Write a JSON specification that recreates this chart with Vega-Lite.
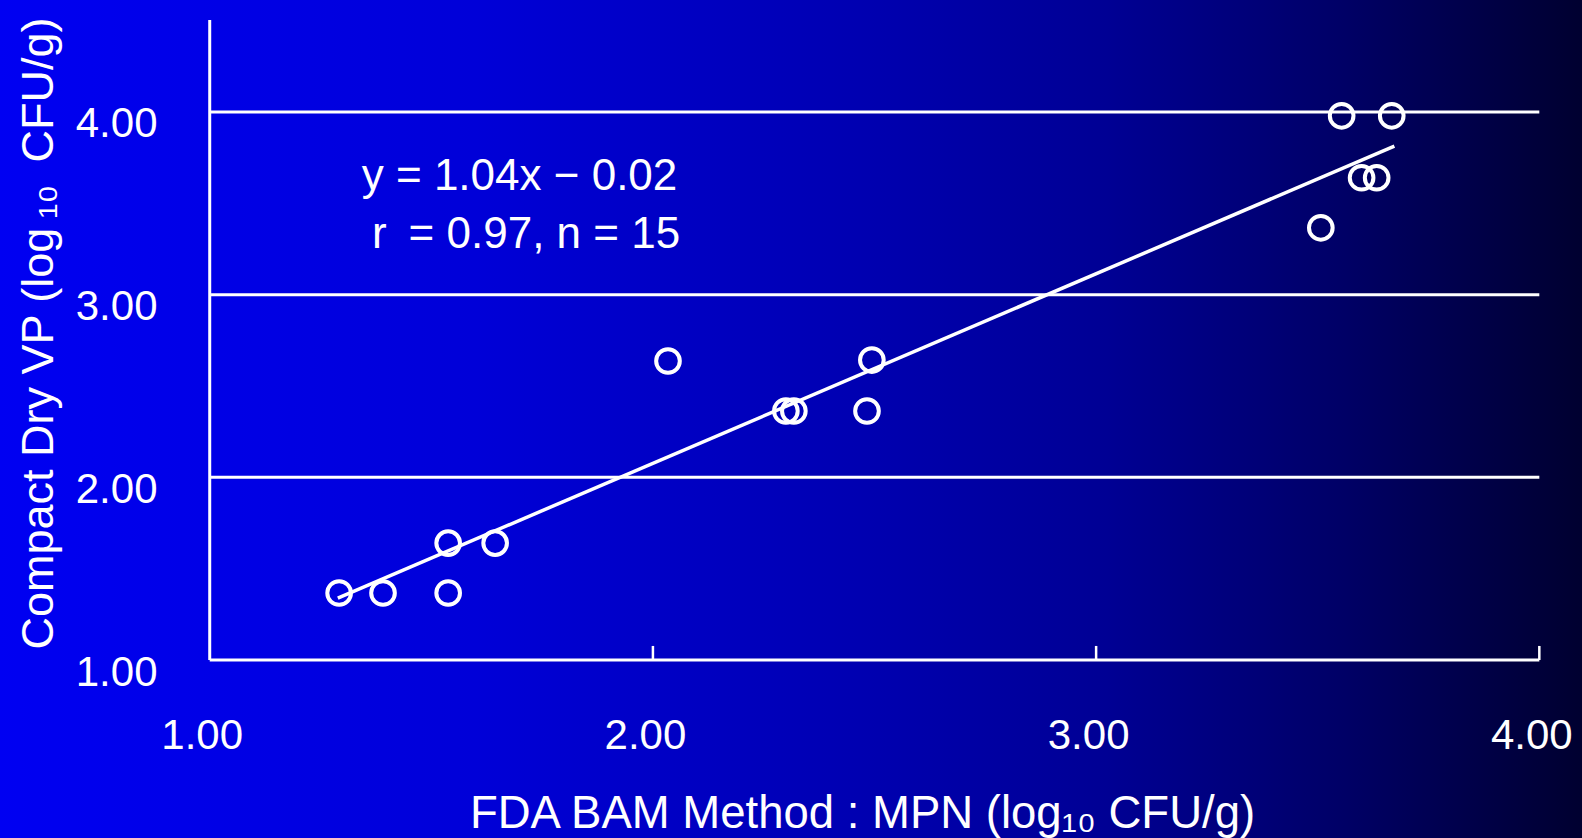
{
  "$schema": "https://vega.github.io/schema/vega-lite/v6.json",
  "width": 1582,
  "height": 838,
  "autosize": {"type": "none"},
  "padding": 0,
  "background": "#000090",
  "view": {
    "stroke": null,
    "fill": {
      "gradient": "linear",
      "x1": 0, "y1": 0, "x2": 1, "y2": 0,
      "stops": [
        {"offset": 0, "color": "#0000F2"},
        {"offset": 0.3, "color": "#0000D8"},
        {"offset": 0.55, "color": "#0000B0"},
        {"offset": 0.7, "color": "#000094"},
        {"offset": 0.85, "color": "#000066"},
        {"offset": 1, "color": "#000030"}
      ]
    }
  },
  "config": {
    "font": "Liberation Sans",
    "axis": {"grid": false, "domain": false, "ticks": false, "tickSize": 0}
  },
  "datasets": {
    "points": [
      {"fda": 1.292, "cd": 1.367},
      {"fda": 1.391, "cd": 1.367},
      {"fda": 1.538, "cd": 1.367},
      {"fda": 1.538, "cd": 1.640},
      {"fda": 1.644, "cd": 1.640},
      {"fda": 2.034, "cd": 2.637},
      {"fda": 2.300, "cd": 2.363},
      {"fda": 2.318, "cd": 2.363},
      {"fda": 2.483, "cd": 2.363},
      {"fda": 2.494, "cd": 2.642},
      {"fda": 3.507, "cd": 3.366},
      {"fda": 3.554, "cd": 3.979},
      {"fda": 3.667, "cd": 3.979},
      {"fda": 3.599, "cd": 3.640},
      {"fda": 3.633, "cd": 3.640}
    ],
    "fit": [
      {"fda": 1.289, "cd": 1.339},
      {"fda": 3.673, "cd": 3.813}
    ],
    "grid": [{"level": 1}, {"level": 2}, {"level": 3}, {"level": 4}],
    "xticks": [{"tick": 2}, {"tick": 3}, {"tick": 4}],
    "notes": [
      {"tx": 1.343, "ty": 3.572, "label": "y = 1.04x − 0.02"},
      {"tx": 1.366, "ty": 3.255, "label": "r\u2002= 0.97, n = 15"}
    ]
  },
  "layer": [
    {
      "data": {"name": "grid"},
      "mark": {"type": "rule", "color": "white", "strokeWidth": 3},
      "encoding": {
        "y": {"field": "level", "type": "quantitative", "scale": {"domain": [0.0257, 4.613], "nice": false, "zero": false}},
        "x": {"datum": 1, "type": "quantitative", "scale": {"domain": [0.5268, 4.0963], "nice": false, "zero": false}},
        "x2": {"datum": 4}
      }
    },
    {
      "data": {"values": [{}]},
      "mark": {"type": "rule", "color": "white", "strokeWidth": 3},
      "encoding": {
        "x": {"datum": 1, "type": "quantitative", "scale": {"domain": [0.5268, 4.0963], "nice": false, "zero": false}},
        "y": {"datum": 1, "type": "quantitative", "scale": {"domain": [0.0257, 4.613], "nice": false, "zero": false}},
        "y2": {"datum": 4.504}
      }
    },
    {
      "data": {"name": "xticks"},
      "mark": {"type": "rule", "color": "white", "strokeWidth": 2.5},
      "encoding": {
        "x": {"field": "tick", "type": "quantitative", "scale": {"domain": [0.5268, 4.0963], "nice": false, "zero": false}},
        "y": {"datum": 1, "type": "quantitative", "scale": {"domain": [0.0257, 4.613], "nice": false, "zero": false}},
        "y2": {"datum": 1.077}
      }
    },
    {
      "data": {"name": "fit"},
      "mark": {"type": "line", "color": "white", "strokeWidth": 3.5},
      "encoding": {
        "x": {"field": "fda", "type": "quantitative", "scale": {"domain": [0.5268, 4.0963], "nice": false, "zero": false}},
        "y": {"field": "cd", "type": "quantitative", "scale": {"domain": [0.0257, 4.613], "nice": false, "zero": false}}
      }
    },
    {
      "data": {"name": "points"},
      "mark": {"type": "point", "shape": "circle", "filled": false, "stroke": "white", "strokeWidth": 4, "size": 560, "opacity": 1},
      "encoding": {
        "x": {
          "field": "fda", "type": "quantitative",
          "scale": {"domain": [0.5268, 4.0963], "nice": false, "zero": false},
          "axis": {
            "orient": "bottom", "offset": -178, "values": [1, 2, 3, 4], "format": ".2f",
            "labelFont": "Liberation Sans", "labelFontSize": 42, "labelColor": "white",
            "labelPadding": 55, "labelOffset": -8, "labelFlush": false, "labelOverlap": false, "labelBaseline": "top",
            "title": "FDA BAM Method : MPN (log₁₀ CFU/g)",
            "titleFont": "Liberation Sans", "titleFontSize": 45.5, "titleFontWeight": "normal", "titleColor": "white",
            "titleX": 862, "titleY": 167, "titleAlign": "center", "titleBaseline": "alphabetic"
          }
        },
        "y": {
          "field": "cd", "type": "quantitative",
          "scale": {"domain": [0.0257, 4.613], "nice": false, "zero": false},
          "axis": {
            "orient": "left", "offset": -207, "values": [1, 2, 3, 4], "format": ".2f",
            "labelFont": "Liberation Sans", "labelFontSize": 42, "labelColor": "white",
            "labelPadding": 50, "labelOffset": 12, "labelFlush": false, "labelOverlap": false,
            "title": "Compact Dry VP (log\u2009₁₀\u2002CFU/g)",
            "titleFont": "Liberation Sans", "titleFontSize": 45, "titleFontWeight": "normal", "titleColor": "white",
            "titleX": -155, "titleY": 333, "titleAngle": -90, "titleAlign": "center", "titleBaseline": "alphabetic"
          }
        }
      }
    },
    {
      "data": {"name": "notes"},
      "mark": {"type": "text", "color": "white", "font": "Liberation Sans", "fontSize": 44, "align": "left", "baseline": "alphabetic"},
      "encoding": {
        "x": {"field": "tx", "type": "quantitative", "scale": {"domain": [0.5268, 4.0963], "nice": false, "zero": false}},
        "y": {"field": "ty", "type": "quantitative", "scale": {"domain": [0.0257, 4.613], "nice": false, "zero": false}},
        "text": {"field": "label"}
      }
    }
  ]
}
